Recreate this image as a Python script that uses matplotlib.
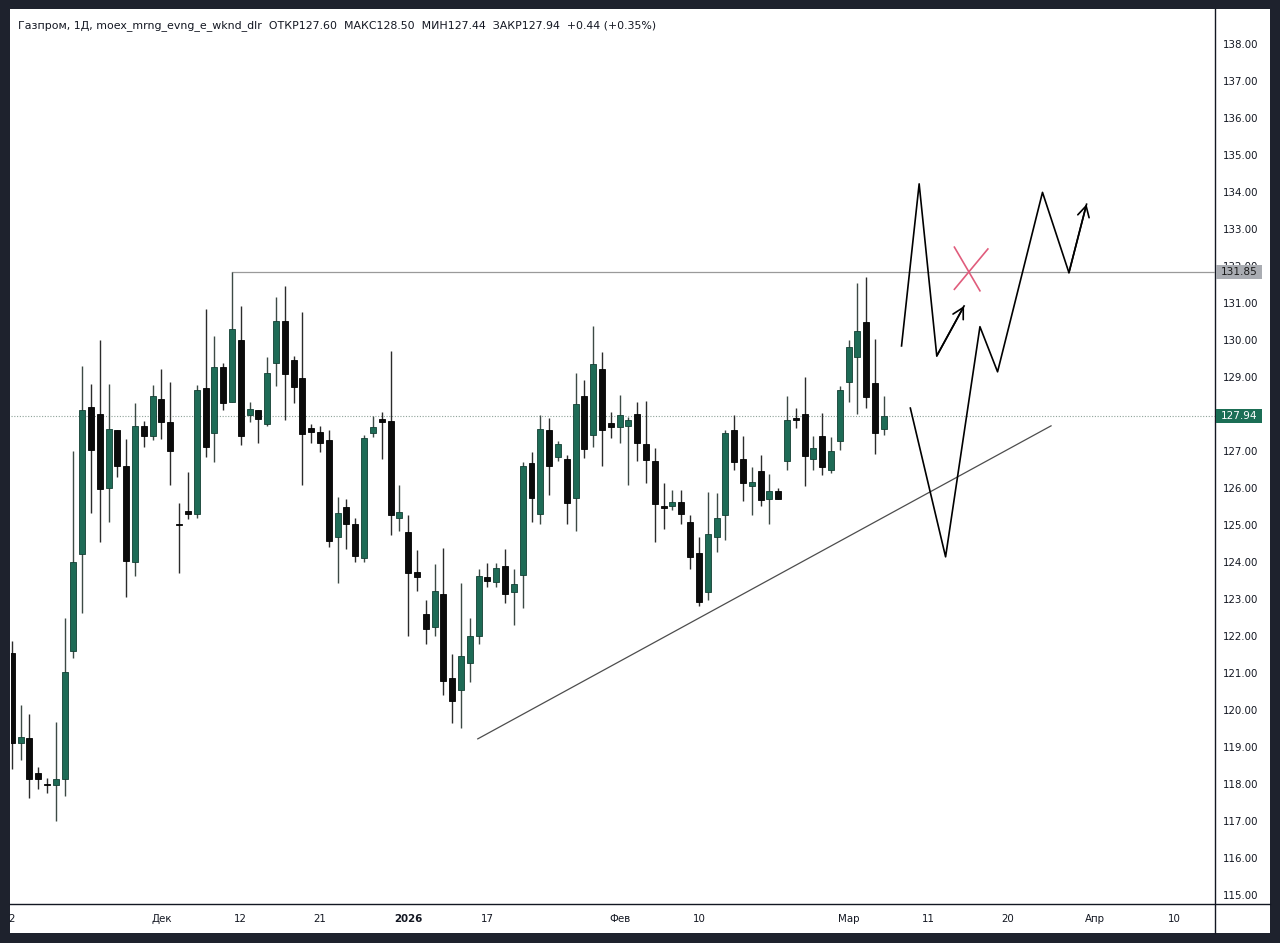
import matplotlib
matplotlib.use('Agg')
import matplotlib.pyplot as plt
import matplotlib.transforms as mtransforms
from matplotlib.lines import Line2D
from matplotlib.patches import Rectangle
import numpy as np

# ---------------- data ----------------
opens = [121.54, 119.12, 119.24, 118.30, 117.99, 117.97, 118.14, 121.60, 124.22, 128.18,
         128.00, 126.00, 127.57, 126.59, 124.00, 127.68, 127.41, 128.41, 127.78, 125.02,
         125.38, 125.30, 128.70, 127.49, 129.27, 128.32, 130.00, 127.97, 128.11, 127.73,
         129.38, 130.51, 129.46, 128.97, 127.62, 127.51, 127.30, 124.68, 125.49, 125.03,
         124.11, 127.49, 127.86, 127.81, 125.19, 124.81, 123.73, 122.60, 122.24, 123.14,
         120.86, 120.54, 121.27, 122.00, 123.59, 123.46, 123.89, 123.19, 123.65, 126.68,
         125.30, 127.57, 126.84, 126.78, 125.73, 128.49, 127.43, 129.22, 127.76, 127.65,
         127.68, 128.00, 127.19, 126.73, 125.51, 125.51, 125.62, 125.08, 124.24, 123.19,
         124.68, 125.27, 127.57, 126.78, 126.05, 126.46, 125.70, 125.92, 126.73, 127.89,
         128.00, 126.78, 127.41, 126.49, 127.27, 128.86, 129.54, 130.49, 128.84, 127.60]
highs = [121.86, 120.14, 119.89, 118.45, 118.16, 119.68, 122.50, 127.00, 129.30, 128.81,
         130.00, 128.81, 127.57, 127.32, 128.31, 127.81, 128.79, 129.22, 128.86, 125.60,
         126.43, 128.78, 130.85, 130.10, 129.38, 131.85, 130.92, 128.32, 128.11, 129.54,
         131.16, 131.46, 129.57, 130.76, 127.73, 127.68, 127.57, 125.76, 125.70, 125.19,
         127.43, 127.95, 128.05, 129.70, 126.08, 125.27, 124.32, 122.97, 123.95, 124.38,
         121.51, 123.43, 122.49, 123.81, 123.97, 123.97, 124.35, 123.81, 126.70, 126.97,
         127.97, 127.89, 127.27, 126.89, 129.11, 128.92, 130.38, 129.68, 128.05, 128.51,
         127.92, 128.32, 128.35, 127.08, 126.14, 125.95, 125.95, 125.27, 124.68, 125.89,
         125.86, 127.57, 127.97, 127.41, 126.57, 126.89, 126.38, 126.00, 128.49, 128.16,
         129.00, 127.41, 128.03, 127.38, 128.76, 130.00, 131.54, 131.70, 130.03, 128.50]
lows = [118.41, 118.65, 117.62, 117.86, 117.76, 117.00, 117.68, 121.40, 122.62, 125.32,
        124.53, 125.08, 126.30, 123.05, 123.62, 127.10, 127.30, 127.32, 126.08, 123.70,
        125.16, 125.20, 126.84, 126.70, 128.11, 128.32, 127.16, 127.78, 127.22, 127.68,
        128.76, 127.84, 128.30, 126.08, 127.22, 126.97, 124.41, 123.43, 124.35, 124.00,
        124.00, 127.38, 126.78, 124.73, 124.84, 122.00, 123.22, 121.78, 122.00, 120.41,
        119.65, 119.51, 120.76, 121.78, 123.32, 123.32, 122.89, 122.30, 122.76, 125.08,
        125.03, 125.81, 126.73, 125.03, 124.84, 126.81, 127.11, 126.59, 127.35, 127.22,
        126.08, 126.73, 126.14, 124.54, 124.89, 125.41, 125.03, 123.81, 122.81, 122.97,
        124.27, 124.59, 126.49, 125.65, 125.27, 125.51, 125.03, 125.70, 126.49, 127.62,
        126.05, 126.49, 126.35, 126.41, 127.03, 128.32, 128.00, 128.16, 126.92, 127.44]
closes = [119.12, 119.27, 118.14, 118.14, 117.97, 118.14, 121.03, 124.00, 128.11, 127.03,
          125.97, 127.60, 126.59, 124.03, 127.68, 127.40, 128.49, 127.78, 127.00, 125.00,
          125.30, 128.65, 127.10, 129.26, 128.30, 130.30, 127.40, 128.14, 127.86, 129.11,
          130.51, 129.08, 128.73, 127.46, 127.51, 127.22, 124.57, 125.32, 125.03, 124.16,
          127.35, 127.65, 127.78, 125.27, 125.35, 123.70, 123.59, 122.19, 123.22, 120.78,
          120.24, 121.46, 122.00, 123.62, 123.49, 123.84, 123.14, 123.41, 126.59, 125.73,
          127.59, 126.59, 127.19, 125.59, 128.27, 127.05, 129.35, 127.57, 127.65, 127.97,
          127.84, 127.22, 126.76, 125.57, 125.46, 125.62, 125.30, 124.14, 122.92, 124.76,
          125.19, 127.49, 126.70, 126.14, 126.16, 125.68, 125.92, 125.70, 127.84, 127.84,
          126.86, 127.08, 126.57, 127.00, 128.65, 129.81, 130.24, 128.46, 127.49, 127.94]

x_tick_bars = [0, 17, 26, 35, 45, 54, 69, 78, 95, 104, 113, 123, 132]
x_tick_labels = ['2', 'Дек', '12', '21', '2026', '17', 'Фев', '10', 'Мар', '11', '20', 'Апр', '10']
y_ticks = [115, 116, 117, 118, 119, 120, 121, 122, 123, 124, 125, 126, 127,
           129, 130, 131, 132, 133, 134, 135, 136, 137, 138]

header = ("Газпром, 1Д, moex_mrng_evng_e_wknd_dlr  ОТКР127.60  МАКС128.50  "
          "МИН127.44  ЗАКР127.94  +0.44 (+0.35%)")

last_price = 127.94
resistance = 131.85
resistance_start_bar = 25
trend_x = [52.9, 117.97]
trend_y = [119.22, 127.68]

# hand-drawn scenario paths (bar index, price)
path1_x = [101.0, 103.0, 105.0, 108.1]
path1_y = [129.84, 134.22, 129.57, 130.92]
path2_x = [102.0, 106.0, 109.9, 111.9, 117.0, 120.0, 122.0]
path2_y = [128.16, 124.14, 130.36, 129.14, 133.99, 131.82, 133.67]
cross1_x = [107.0, 109.9]
cross1_y = [132.51, 131.33]
cross2_x = [110.8, 107.0]
cross2_y = [132.46, 131.37]

# ---------------- figure ----------------
W, H = 1280, 943
BG = '#1e222d'
TXT = '#131722'
UP = '#1e6b56'
DOWN = '#0b0b0b'

fig = plt.figure(figsize=(W / 100, H / 100), dpi=100, facecolor=BG)


def fx(px):
    return px / W


def fy(py):
    return 1 - py / H


fig.patches.append(Rectangle((fx(10), fy(933)), fx(1270) - fx(10), fy(9) - fy(933),
                             transform=fig.transFigure, facecolor='white',
                             edgecolor='none', zorder=-5))

ax = fig.add_axes([fx(10.5), fy(904), fx(1215) - fx(10.5), fy(10) - fy(904)])
ax.set_zorder(2)
ax.patch.set_alpha(0)

n = len(opens)
xs = np.arange(n)
o = np.array(opens)
c = np.array(closes)
h = np.array(highs)
l = np.array(lows)
up = c >= o
colors = np.where(up, UP, DOWN)

ax.vlines(xs, l, h, colors=np.where(up, '#3d4a45', '#2b2b2b'), linewidth=1.0, zorder=3)
bottoms = np.minimum(o, c)
heights = np.maximum(np.abs(c - o), 0.04)
ax.bar(xs, heights, bottom=bottoms, width=0.68, color=colors,
       edgecolor=np.where(up, '#123f33', '#000000'), linewidth=0.6, zorder=4)

ax.set_xlim(-0.136, 136.58)
ax.set_ylim(114.757, 138.919)

# lines
ax.axhline(last_price, color='#8fa39a', linestyle=(0, (1, 1.5)), linewidth=0.8, zorder=2)
ax.plot([resistance_start_bar, 136.58], [resistance, resistance], color='#9a9a9a',
        linewidth=0.9, zorder=2)
ax.plot(trend_x, trend_y, color='#4d4d4d', linewidth=0.9, zorder=2)

lw = 1.2
arrow_kw = dict(arrowstyle='->,head_length=0.55,head_width=0.3', color='black', lw=lw,
                shrinkA=0, shrinkB=0, mutation_scale=14)
ax.plot(path1_x, path1_y, color='black', linewidth=lw, zorder=5)
ax.annotate('', xy=(path1_x[-1], path1_y[-1]), xytext=(path1_x[-2], path1_y[-2]),
            arrowprops=arrow_kw)
ax.plot(path2_x, path2_y, color='black', linewidth=lw, zorder=5)
ax.annotate('', xy=(path2_x[-1], path2_y[-1]), xytext=(path2_x[-2], path2_y[-2]),
            arrowprops=arrow_kw)
ax.plot(cross1_x, cross1_y, color='#e05c7c', linewidth=1.2, zorder=5)
ax.plot(cross2_x, cross2_y, color='#e05c7c', linewidth=1.2, zorder=5)

# axes styling
for s in ax.spines.values():
    s.set_visible(False)
ax.yaxis.tick_right()
ax.set_yticks(y_ticks)
ax.set_yticklabels([f"{v:.2f}" for v in y_ticks])
ax.tick_params(axis='y', length=0, pad=6, labelsize=7.4, labelcolor=TXT)
ax.set_xticks(x_tick_bars)
ax.set_xticklabels(x_tick_labels)
ax.tick_params(axis='x', length=0, pad=7, labelsize=7.4, labelcolor=TXT)
for t in ax.get_xticklabels():
    if t.get_text() == '2026':
        t.set_fontweight('bold')

# frame lines
fig.add_artist(Line2D([fx(1215), fx(1215)], [fy(9), fy(933)], color=TXT, linewidth=1.0,
                      transform=fig.transFigure))
fig.add_artist(Line2D([fx(10), fx(1270)], [fy(904), fy(904)], color=TXT, linewidth=1.0,
                      transform=fig.transFigure))

# price labels on axis
trans = mtransforms.blended_transform_factory(ax.transAxes, ax.transData)
x0 = 1.0005
x1 = (1262 - 10.5) / (1215 - 10.5)
half = 0.19
for price, fc, tc in [(resistance, '#a9acb2', '#1a1a1a'), (last_price, '#1b6e55', 'white')]:
    ax.add_patch(Rectangle((x0, price - half), x1 - x0, 2 * half, transform=trans,
                           facecolor=fc, edgecolor='none', clip_on=False, zorder=10))
    ax.text((x0 + x1) / 2, price, f"{price:.2f}", transform=trans, ha='center',
            va='center', fontsize=7.6, color=tc, zorder=11, clip_on=False)

fig.text(fx(18), fy(26), header, fontsize=7.9, va='center', ha='left', color=TXT)

fig.savefig('out.png', dpi=100, facecolor=BG)
